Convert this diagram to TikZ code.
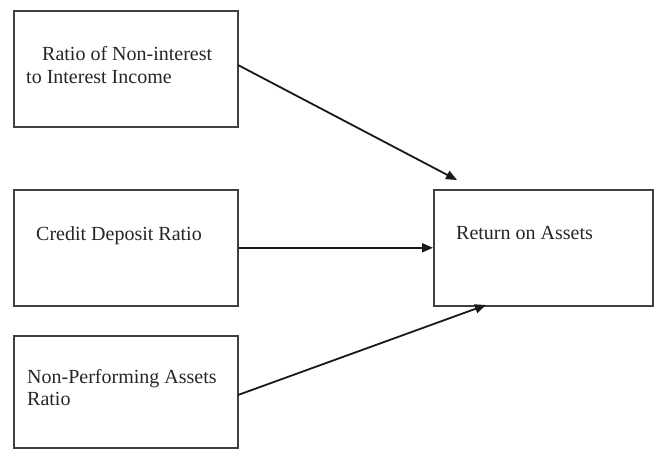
\documentclass[tikz,border=0pt]{standalone}
\usepackage{fontspec}
\setmainfont{Liberation Serif}
\usetikzlibrary{arrows.meta}
\begin{document}
\begin{tikzpicture}[x=1pt,y=-1pt,
  box/.style={draw=black!75,line width=1.6pt,rectangle,inner sep=0pt,anchor=north west},
  lbl/.style={anchor=base west,inner sep=0pt,font=\fontsize{20}{23}\selectfont,text=black!85},
  link/.style={draw=black!90,line width=1.8pt,-{Triangle[length=11pt,width=9pt]}}]
  \useasboundingbox[fill=white] (0,0) rectangle (654,448);
  % predictor boxes
  \node[box,minimum width=224pt,minimum height=116pt] (b1) at (13,10) {};
  \node[box,minimum width=224pt,minimum height=116pt] (b2) at (13,189) {};
  \node[box,minimum width=224pt,minimum height=112pt] (b3) at (13,335) {};
  % outcome box
  \node[box,minimum width=219pt,minimum height=116pt] (r) at (433,189) {};
  % labels
  \node[lbl] (t1a) at (42,60) {Ratio of Non-interest};
  \node[lbl] (t1b) at (26,83) {to Interest Income};
  \node[lbl] (t2) at (36,240) {Credit Deposit Ratio};
  \node[lbl] (t3a) at (27,383) {Non-Performing Assets};
  \node[lbl] (t3b) at (27,405) {Ratio};
  \node[lbl] (tr) at (456,239) {Return on Assets};
  % arrow end points
  \coordinate (s1) at (238,65);
  \coordinate (s3) at (238,395);
  \coordinate (e1) at (457,180);
  \coordinate (e3) at (486,305);
  \draw[link] (s1) -- (e1);
  \draw[link] (b2.east) -- (r.west);
  \draw[link] (s3) -- (e3);
\end{tikzpicture}
\end{document}
